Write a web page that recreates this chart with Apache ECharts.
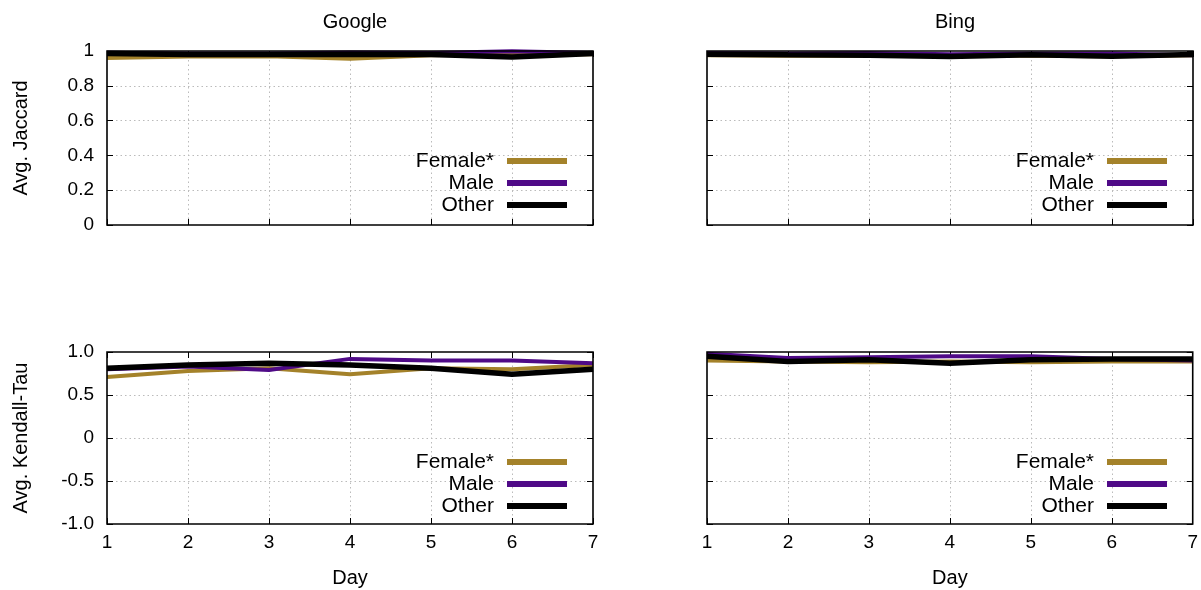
<!DOCTYPE html>
<html><head><meta charset="utf-8">
<script src="https://cdn.jsdelivr.net/npm/echarts@6/dist/echarts.min.js"></script>
<style>html,body{margin:0;padding:0;background:#fff}#c{width:1201px;height:590px}</style>
</head><body><div id="c"></div>
<script>
const days = [1, 2, 3, 4, 5, 6, 7];
const seriesNames = ['Female*', 'Male', 'Other'];
const panelTitles = ['Google', 'Bing'];
const jaccardTicks = ['0', '0.2', '0.4', '0.6', '0.8', '1'];
const kendallTicks = ['-1.0', '-0.5', '0', '0.5', '1.0'];

const googleJaccardFemale = [0.960, 0.968, 0.970, 0.955, 0.975, 0.980, 0.982];
const googleJaccardMale   = [0.990, 0.985, 0.985, 0.992, 0.988, 0.998, 0.988];
const googleJaccardOther  = [0.985, 0.980, 0.980, 0.980, 0.980, 0.965, 0.985];

const bingJaccardFemale = [0.975, 0.972, 0.972, 0.975, 0.972, 0.970, 0.975];
const bingJaccardMale   = [0.988, 0.985, 0.988, 0.982, 0.985, 0.985, 0.975];
const bingJaccardOther  = [0.982, 0.978, 0.975, 0.968, 0.978, 0.970, 0.980];

const googleKendallFemale = [0.71, 0.78, 0.81, 0.74, 0.81, 0.80, 0.85];
const googleKendallMale   = [0.80, 0.83, 0.79, 0.92, 0.90, 0.90, 0.87];
const googleKendallOther  = [0.81, 0.85, 0.87, 0.85, 0.81, 0.74, 0.80];

const bingKendallFemale = [0.90, 0.89, 0.88, 0.89, 0.88, 0.89, 0.89];
const bingKendallMale   = [0.98, 0.93, 0.94, 0.95, 0.95, 0.92, 0.90];
const bingKendallOther  = [0.95, 0.89, 0.91, 0.87, 0.91, 0.92, 0.92];

const colors = ['#a4822a', '#4f0a87', '#000000'];
const widths = [4, 4, 5.5];
const FONT = 'Liberation Sans';

const panels = [
  {left:107, top:51, h:174, data:[googleJaccardFemale, googleJaccardMale, googleJaccardOther], jac:true, ylab:true, xlab:false},
  {left:707, top:51, h:174, data:[bingJaccardFemale, bingJaccardMale, bingJaccardOther], jac:true, ylab:false, xlab:false},
  {left:107, top:352, h:172, data:[googleKendallFemale, googleKendallMale, googleKendallOther], jac:false, ylab:true, xlab:true},
  {left:707, top:352, h:172, data:[bingKendallFemale, bingKendallMale, bingKendallOther], jac:false, ylab:false, xlab:true}
];

const grid = [], xAxis = [], yAxis = [], series = [], legend = [];
const W = 486;
const split = {show:true, showMinLine:false, showMaxLine:false, lineStyle:{color:'#bbb', type:[1.5, 3], width:1}};
panels.forEach((p, i) => {
  grid.push({left:p.left, top:p.top, width:W, height:p.h, show:true, borderColor:'#000', borderWidth:1.6, containLabel:false, z:5});
  const xBase = {type:'value', gridIndex:i, min:1, max:7, interval:1,
    axisLine:{show:false, onZero:false}, axisTick:{inside:true, length:6, lineStyle:{color:'#000', width:1}},
    splitLine:split};
  xAxis.push(Object.assign({}, xBase, {position:'bottom',
    axisLabel:{show:p.xlab, color:'#000', fontSize:19, fontFamily:FONT, margin:9},
    name:p.xlab ? 'Day' : '', nameLocation:'middle', nameGap:44,
    nameTextStyle:{color:'#000', fontSize:20, fontFamily:FONT}}));
  xAxis.push(Object.assign({}, xBase, {position:'top', axisLabel:{show:false}, splitLine:{show:false}}));
  const yMin = p.jac ? 0 : -1, yMax = 1, yInt = p.jac ? 0.2 : 0.5;
  const ticks = p.jac ? jaccardTicks : kendallTicks;
  const yBase = {type:'value', gridIndex:i, min:yMin, max:yMax, interval:yInt,
    axisLine:{show:false, onZero:false}, axisTick:{inside:true, length:6, lineStyle:{color:'#000', width:1}},
    splitLine:split};
  yAxis.push(Object.assign({}, yBase, {position:'left',
    axisLabel:{show:p.ylab, color:'#000', fontSize:19, fontFamily:FONT, margin:13,
      formatter: v => ticks[Math.round((v - yMin) / yInt)]},
    name:p.ylab ? (p.jac ? 'Avg. Jaccard' : 'Avg. Kendall-Tau') : '', nameLocation:'middle', nameGap:76,
    nameRotate:90, nameTextStyle:{color:'#000', fontSize:20, fontFamily:FONT}}));
  yAxis.push(Object.assign({}, yBase, {position:'right', axisLabel:{show:false}, splitLine:{show:false}}));
  p.data.forEach((d, k) => {
    series.push({type:'line', name:seriesNames[k], xAxisIndex:2*i, yAxisIndex:2*i,
      data: days.map((x, j) => [x, d[j]]), symbol:'none', showSymbol:false,
      lineStyle:{color:colors[k], width:widths[k]}, itemStyle:{color:colors[k]},
      z: 2 + k, animation:false});
  });
  legend.push({orient:'vertical', align:'right', right:1201 - (p.left + 460),
    top:p.top + 99, itemWidth:60, itemHeight:6, itemGap:0, icon:'rect', padding:0,
    data:seriesNames, selectedMode:false,
    textStyle:{color:'#000', fontSize:21, lineHeight:22, fontFamily:FONT, padding:[0, 8, 0, 0]}});
});

const title = panelTitles.map((t, i) => ({text:t, left:107 + 600*i + W/2, top:7, textAlign:'center',
  textStyle:{color:'#000', fontSize:20, fontWeight:'normal', fontFamily:FONT}}));

const chart = echarts.init(document.getElementById('c'), null, {renderer:'canvas'});
chart.setOption({animation:false, backgroundColor:'#fff', title, grid, xAxis, yAxis, series, legend});
</script></body></html>
